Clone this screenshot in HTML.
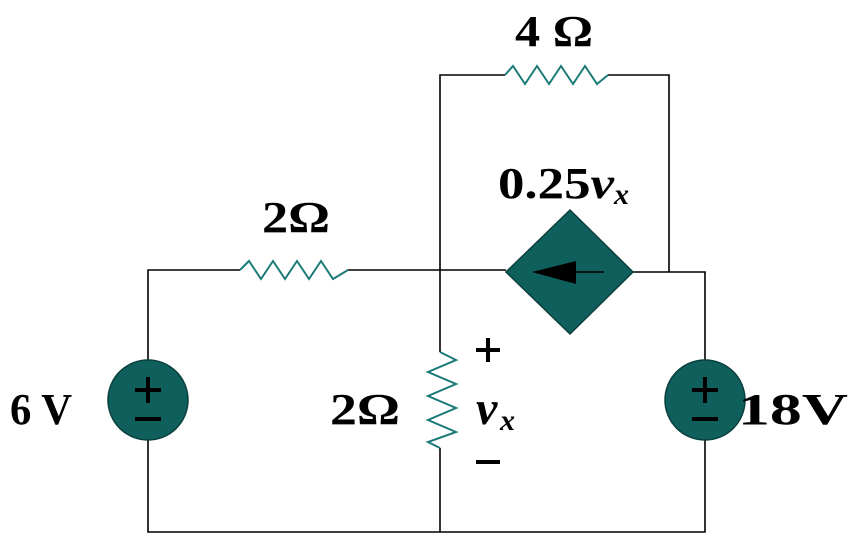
<!DOCTYPE html>
<html><head><style>body{margin:0;background:#fff}svg{display:block}</style></head><body>
<svg width="858" height="539" viewBox="0 0 858 539" xmlns="http://www.w3.org/2000/svg">
<g stroke="#000" stroke-width="1.6" fill="none">
<polyline points="148,360 148,270 240,270"/>
<polyline points="348,270 506,270"/>
<polyline points="633,272 705,272 705,360"/>
<polyline points="148,440 148,532 705,532 705,440"/>
<polyline points="440,532 440,448"/>
<polyline points="440,352 440,75 505,75"/>
<polyline points="608,75 669,75 669,272"/>
</g>
<g stroke="#1a7a78" stroke-width="2" fill="none">
<polyline points="505,75 513,66 525,84 537,66 549,84 561,66 573,84 585,66 597,84 608,75"/>
<polyline points="240,270 249,261 261,279 273,261 285,279 297,261 309,279 321,261 333,279 348,270"/>
<polyline points="440,352 456,360 428,372 456,384 428,396 456,408 428,420 456,432 428,442 440,448"/>
</g>
<polygon points="570,210 633,272 570,334 506,272" fill="#0f5f5c" stroke="#0a3f3d" stroke-width="1.5"/>
<line x1="560" y1="272" x2="604" y2="272" stroke="#000" stroke-width="1.6"/>
<polygon points="532,272 576,261 576,284" fill="#000"/>
<circle cx="148" cy="400" r="40" fill="#0f5f5c" stroke="#0a3f3d" stroke-width="1.5"/>
<circle cx="705" cy="400" r="40" fill="#0f5f5c" stroke="#0a3f3d" stroke-width="1.5"/>
<g stroke="#000" stroke-width="4">
<line x1="135" y1="390" x2="161" y2="390"/><line x1="148" y1="377" x2="148" y2="403"/><line x1="135" y1="419" x2="161" y2="419"/>
<line x1="692" y1="390" x2="718" y2="390"/><line x1="705" y1="377" x2="705" y2="403"/><line x1="692" y1="419" x2="718" y2="419"/>
<line x1="476" y1="350" x2="500" y2="350"/><line x1="488" y1="338" x2="488" y2="362"/><line x1="476" y1="462" x2="500" y2="462"/>
</g>
<g font-family="Liberation Serif, serif" font-weight="bold" font-size="44" fill="#000">
<text x="515" y="46" textLength="78" lengthAdjust="spacingAndGlyphs">4 Ω</text>
<text x="262" y="232" textLength="68" lengthAdjust="spacingAndGlyphs">2Ω</text>
<text x="10" y="424" textLength="62" lengthAdjust="spacingAndGlyphs">6 V</text>
<text x="330" y="424" textLength="70" lengthAdjust="spacingAndGlyphs">2Ω</text>
<text x="738" y="424" textLength="110" lengthAdjust="spacingAndGlyphs">18V</text>
<text x="498" y="198" textLength="116" lengthAdjust="spacingAndGlyphs">0.25<tspan font-style="italic">v</tspan></text>
<text x="614" y="204" font-style="italic" font-size="30">x</text>
<text x="476" y="424" font-style="italic" font-size="48">v</text>
<text x="500" y="430" font-style="italic" font-size="30">x</text>
</g>
</svg>
</body></html>
